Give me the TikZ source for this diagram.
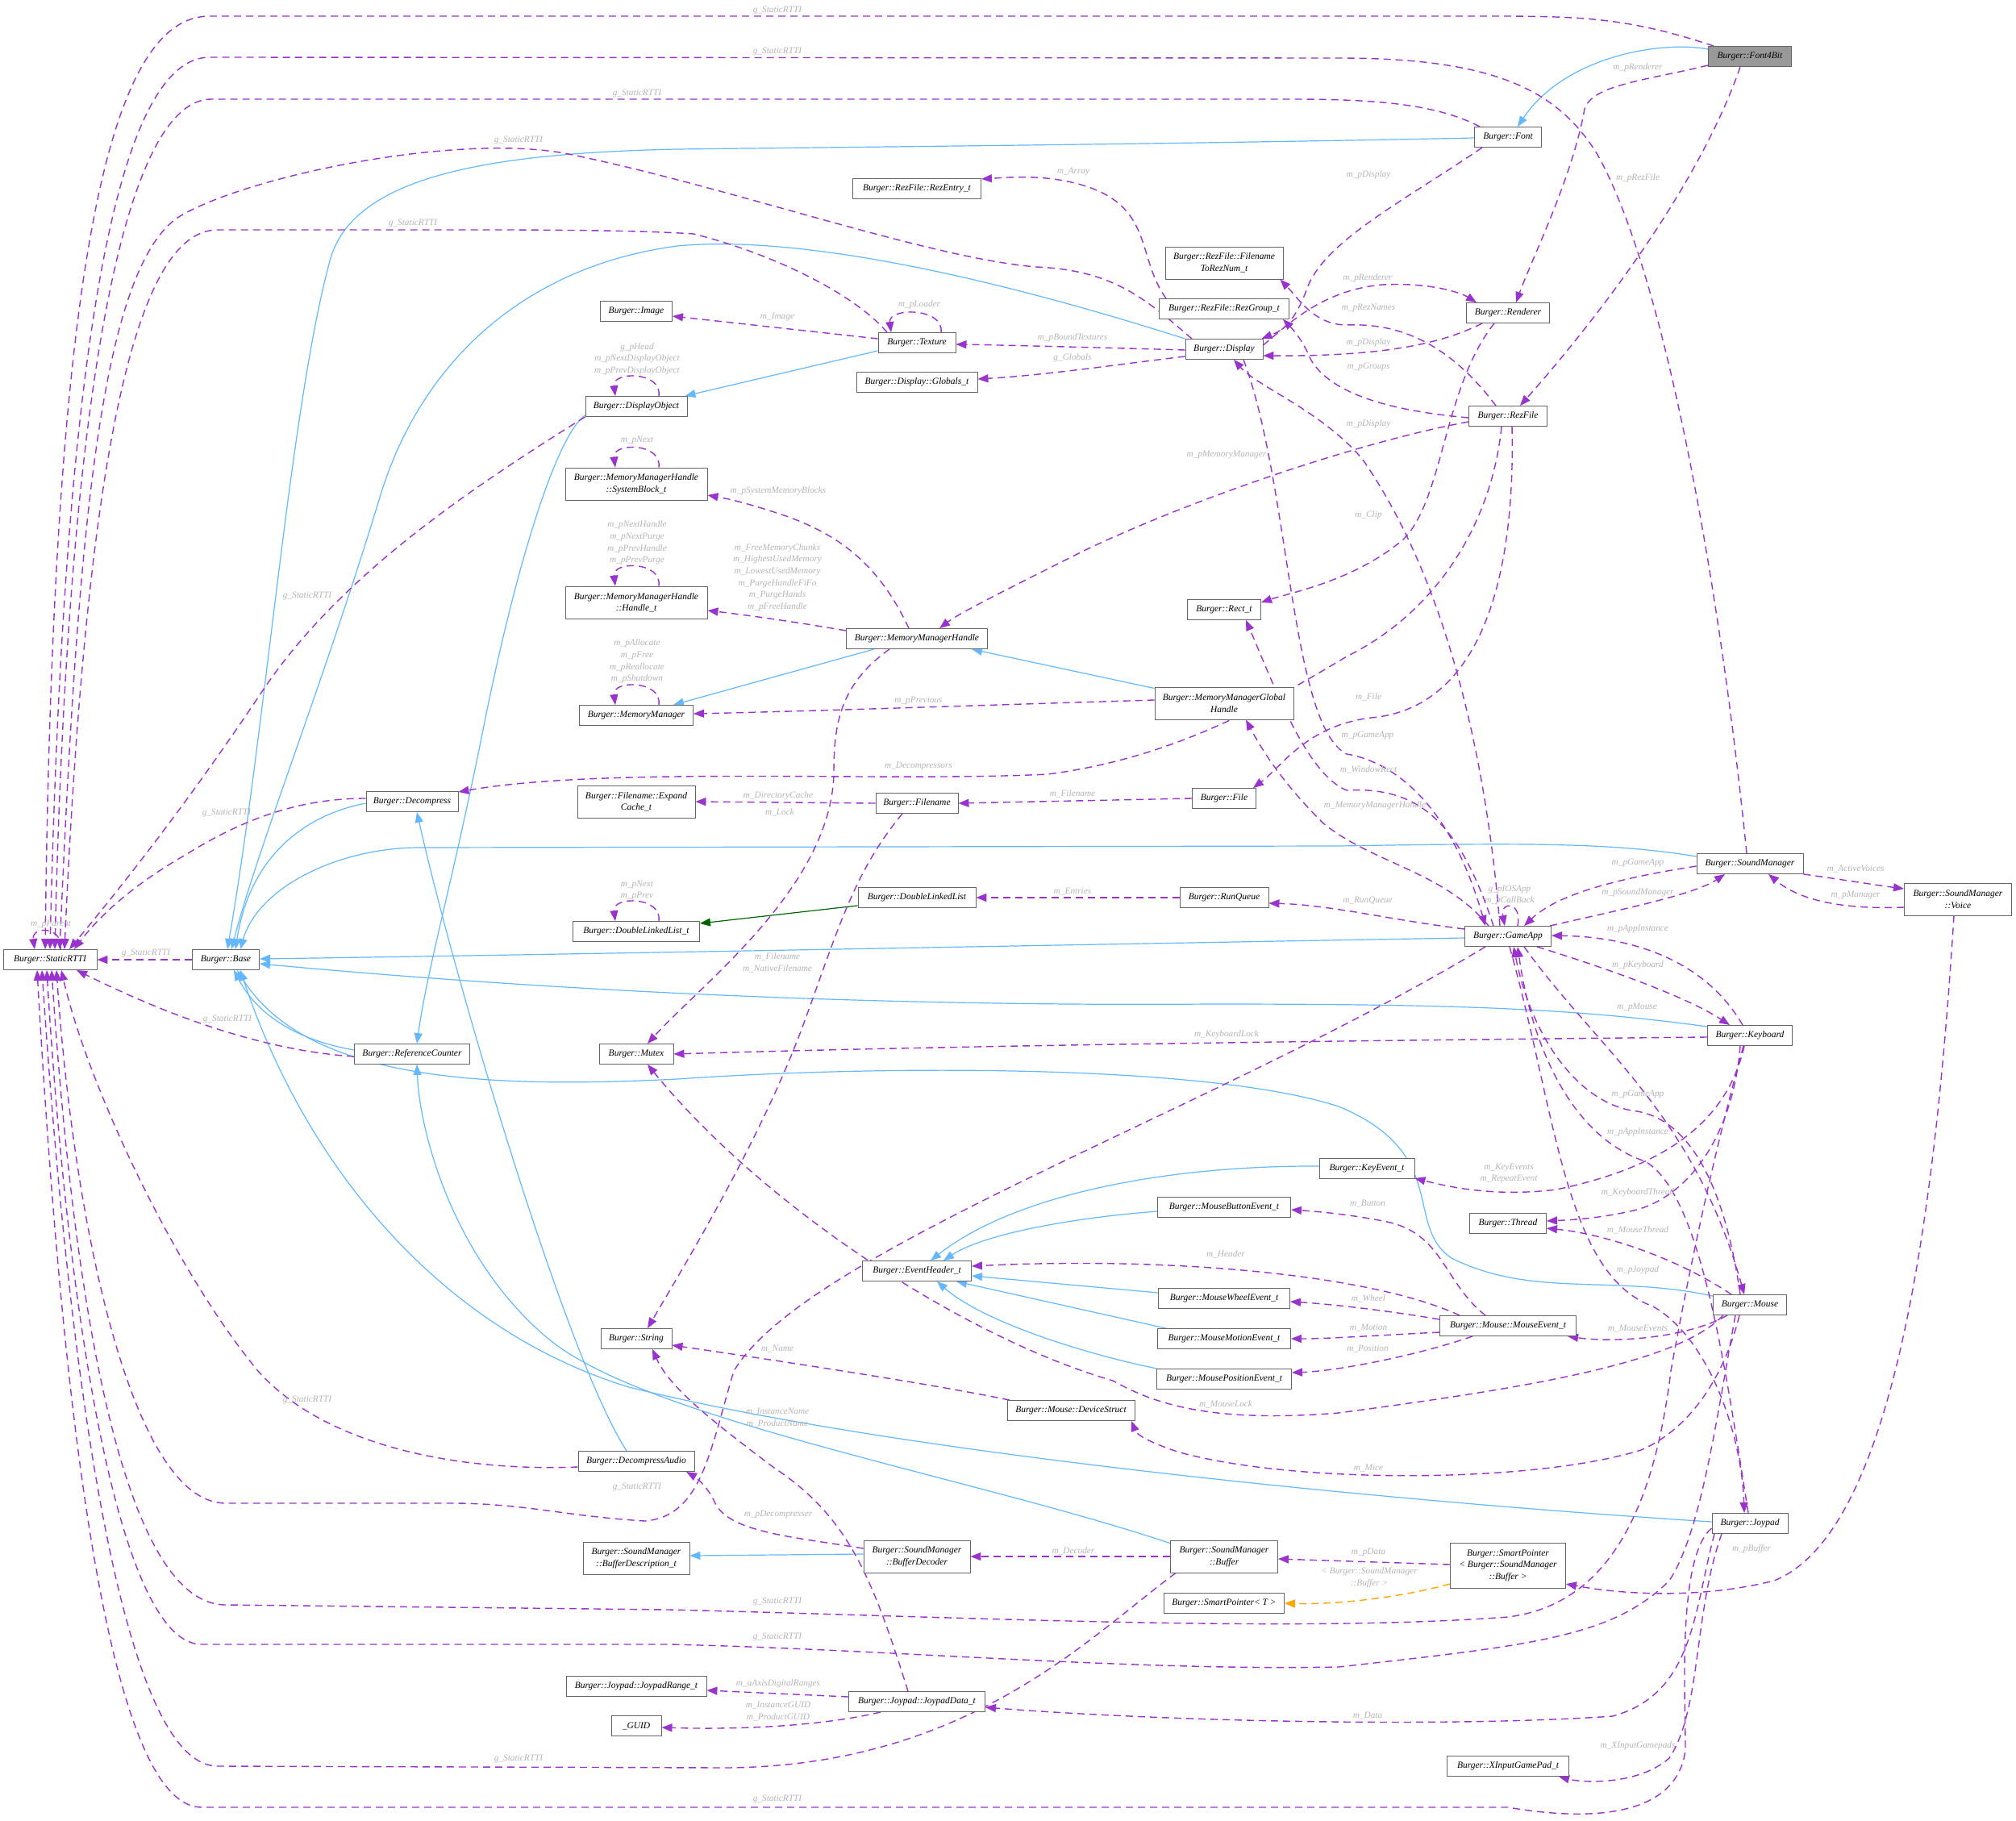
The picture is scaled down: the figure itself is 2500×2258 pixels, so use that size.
\documentclass[tikz,border=0pt]{standalone}
\usepackage{fontspec}
\setmainfont{Liberation Serif}
\usetikzlibrary{arrows.meta,calc}
\definecolor{usecol}{HTML}{9A32CD}
\definecolor{inhcol}{HTML}{63B8FF}
\definecolor{grncol}{HTML}{006400}
\definecolor{tplcol}{HTML}{FFA500}
\definecolor{boxgray}{HTML}{666666}
\definecolor{lblgray}{HTML}{B4B4B4}
\definecolor{fillgray}{HTML}{999999}
\newcommand\nodefont{\fontsize{11.5}{14.5}\selectfont\itshape}
\newcommand\lblfont{\fontsize{11.3}{14.6}\selectfont\itshape}
\pgfdeclarelayer{bg}
\pgfsetlayers{bg,main}
\tikzset{
 box/.style={draw=boxgray,line width=0.9pt,fill=white,font=\nodefont,inner xsep=4pt,inner ysep=3pt,minimum height=25pt,align=center,text=black},
 lbl/.style={font=\lblfont,text=lblgray,inner sep=0pt,align=center},
 usedge/.style={draw=usecol,line width=1.4pt,dash pattern=on 9pt off 6pt,-{Triangle[length=13pt,width=10pt]}},
 inhedge/.style={draw=inhcol,line width=1.2pt,-{Triangle[length=13pt,width=10pt]}},
 grnedge/.style={draw=grncol,line width=1.2pt,-{Triangle[length=13pt,width=10pt]}},
 tpledge/.style={draw=tplcol,line width=1.4pt,dash pattern=on 9pt off 6pt,-{Triangle[length=13pt,width=10pt]}},
}
\begin{document}
\begin{tikzpicture}[x=1pt,y=-1pt]
\useasboundingbox (0,0) rectangle (2500,2258);
% ---------------- nodes
\node[box,minimum width=103pt,fill=fillgray] (font4bit) at (2170,70) {Burger::Font4Bit};
\node[box,minimum width=83pt] (font) at (1870,170) {Burger::Font};
\node[box,minimum width=159pt] (rezentry) at (1137,234) {Burger::RezFile::RezEntry\_t};
\node[box,minimum width=146pt,minimum height=40pt] (fn2rez) at (1518,326) {Burger::RezFile::Filename\\ToRezNum\_t};
\node[box,minimum width=161pt] (rezgroup) at (1518,383) {Burger::RezFile::RezGroup\_t};
\node[box,minimum width=103pt] (renderer) at (1870,388) {Burger::Renderer};
\node[box,minimum width=89pt] (image) at (789,386) {Burger::Image};
\node[box,minimum width=96pt] (texture) at (1137,425) {Burger::Texture};
\node[box,minimum width=96pt] (display) at (1518,433) {Burger::Display};
\node[box,minimum width=150pt] (globals) at (1137,474) {Burger::Display::Globals\_t};
\node[box,minimum width=126pt] (dispobj) at (789,504) {Burger::DisplayObject};
\node[box,minimum width=97pt] (rezfile) at (1870,516) {Burger::RezFile};
\node[box,minimum width=176pt,minimum height=40pt] (sysblock) at (789,600) {Burger::MemoryManagerHandle\\::SystemBlock\_t};
\node[box,minimum width=176pt,minimum height=40pt] (handle) at (789,747) {Burger::MemoryManagerHandle\\::Handle\_t};
\node[box,minimum width=91pt] (rect) at (1518,756) {Burger::Rect\_t};
\node[box,minimum width=175pt] (mmh) at (1137,792) {Burger::MemoryManagerHandle};
\node[box,minimum width=172pt,minimum height=40pt] (mmgh) at (1518,872) {Burger::MemoryManagerGlobal\\Handle};
\node[box,minimum width=141pt] (mm) at (789,887) {Burger::MemoryManager};
\node[box,minimum width=114pt] (decomp) at (511,994) {Burger::Decompress};
\node[box,minimum width=146pt,minimum height=40pt] (expand) at (789,994) {Burger::Filename::Expand\\Cache\_t};
\node[box,minimum width=102pt] (filename) at (1137,996) {Burger::Filename};
\node[box,minimum width=79pt] (file) at (1518,990) {Burger::File};
\node[box,minimum width=132pt] (soundmgr) at (2170,1071) {Burger::SoundManager};
\node[box,minimum width=133pt,minimum height=40pt] (voice) at (2428,1115) {Burger::SoundManager\\::Voice};
\node[box,minimum width=146pt] (dll) at (1137,1113) {Burger::DoubleLinkedList};
\node[box,minimum width=110pt] (runqueue) at (1518,1113) {Burger::RunQueue};
\node[box,minimum width=157pt] (dllt) at (789,1155) {Burger::DoubleLinkedList\_t};
\node[box,minimum width=107pt] (gameapp) at (1870,1161) {Burger::GameApp};
\node[box,minimum width=116pt] (rtti) at (62,1190) {Burger::StaticRTTI};
\node[box,minimum width=83pt] (base) at (280,1190) {Burger::Base};
\node[box,minimum width=105pt] (keyboard) at (2170,1284) {Burger::Keyboard};
\node[box,minimum width=143pt] (refcnt) at (511,1307) {Burger::ReferenceCounter};
\node[box,minimum width=92pt] (mutex) at (789,1307) {Burger::Mutex};
\node[box,minimum width=118pt] (keyevent) at (1695,1449) {Burger::KeyEvent\_t};
\node[box,minimum width=165pt] (mbutton) at (1518,1497) {Burger::MouseButtonEvent\_t};
\node[box,minimum width=95pt] (thread) at (1870,1517) {Burger::Thread};
\node[box,minimum width=135pt] (evhdr) at (1137,1576) {Burger::EventHeader\_t};
\node[box,minimum width=163pt] (mwheel) at (1518,1610) {Burger::MouseWheelEvent\_t};
\node[box,minimum width=91pt] (mouse) at (2170,1618) {Burger::Mouse};
\node[box,minimum width=169pt] (mevent) at (1870,1644) {Burger::Mouse::MouseEvent\_t};
\node[box,minimum width=88pt] (string) at (789,1660) {Burger::String};
\node[box,minimum width=165pt] (mmotion) at (1518,1660) {Burger::MouseMotionEvent\_t};
\node[box,minimum width=167pt] (mpos) at (1518,1710) {Burger::MousePositionEvent\_t};
\node[box,minimum width=158pt] (devstruct) at (1328,1749) {Burger::Mouse::DeviceStruct};
\node[box,minimum width=144pt] (decaudio) at (789,1812) {Burger::DecompressAudio};
\node[box,minimum width=94pt] (joypad) at (2170,1889) {Burger::Joypad};
\node[box,minimum width=132pt,minimum height=40pt] (bufdesc) at (789,1932) {Burger::SoundManager\\::BufferDescription\_t};
\node[box,minimum width=132pt,minimum height=40pt] (bufdec) at (1137,1930) {Burger::SoundManager\\::BufferDecoder};
\node[box,minimum width=133pt,minimum height=40pt] (buffer) at (1518,1930) {Burger::SoundManager\\::Buffer};
\node[box,minimum width=143pt,minimum height=56pt] (smartbuf) at (1870,1941) {Burger::SmartPointer\\< Burger::SoundManager\\::Buffer >};
\node[box,minimum width=149pt] (smartT) at (1518,1988) {Burger::SmartPointer< T >};
\node[box,minimum width=174pt] (jrange) at (789,2091) {Burger::Joypad::JoypadRange\_t};
\node[box,minimum width=169pt] (jdata) at (1137,2110) {Burger::Joypad::JoypadData\_t};
\node[box,minimum width=62pt] (guid) at (789,2140) {\_GUID};
\node[box,minimum width=151pt] (xinput) at (1870,2190) {Burger::XInputGamePad\_t};

\begin{pgfonlayer}{bg}
\fill[white] (0,0) rectangle (2500,2258);
% ---------------- inheritance (blue)
\draw[inhedge] ([yshift=9pt]font4bit.west) .. controls (2060,50) and (1940,70) .. ([xshift=12pt]font.north);
\draw[inhedge] ([yshift=-1pt]font.west) .. controls (1500,178) and (1100,182) .. (840,185) .. controls (600,190) and (440,220) .. (410,320) .. controls (360,500) and (330,900) .. ([xshift=2pt]base.north);
\draw[inhedge] (display.north west) .. controls (1250,350) and (1000,290) .. (840,305) .. controls (650,330) and (520,450) .. (470,620) .. controls (400,850) and (320,1050) .. ([xshift=7pt]base.north);
\draw[inhedge] ([yshift=3pt]texture.south west) -- ([xshift=-3pt]dispobj.north east);
\draw[inhedge] ([yshift=2pt]dispobj.south west) .. controls (690,540) and (640,700) .. (600,900) .. controls (560,1100) and (530,1200) .. ([xshift=6pt]refcnt.north);
\draw[inhedge] ([yshift=5pt]refcnt.west) .. controls (370,1290) and (320,1260) .. ([xshift=10pt]base.south);
\draw[inhedge] ([yshift=-4pt]buffer.north west) .. controls (1200,1830) and (800,1760) .. (680,1660) .. controls (560,1560) and (520,1400) .. ([xshift=6pt]refcnt.south);
\draw[inhedge] ([yshift=2pt]joypad.west) .. controls (1700,1860) and (1100,1800) .. (780,1720) .. controls (550,1650) and (380,1450) .. ([xshift=18pt]base.south);
\draw[inhedge] ([yshift=-2pt]mouse.north west) .. controls (2000,1580) and (1900,1610) .. (1800,1560) .. controls (1740,1520) and (1800,1430) .. (1660,1372) .. controls (1500,1320) and (1100,1320) .. (840,1338) .. controls (600,1350) and (380,1340) .. ([xshift=14pt]base.south);
\draw[inhedge] ([yshift=11pt]keyboard.west) .. controls (1950,1250) and (1800,1245) .. (1500,1245) .. controls (1100,1248) and (700,1230) .. ([yshift=-5pt]base.east);
\draw[inhedge] ([yshift=-2pt]gameapp.west) .. controls (1400,1170) and (800,1182) .. ([yshift=1pt]base.east);
\draw[inhedge] ([yshift=9pt]soundmgr.west) .. controls (2000,1045) and (1900,1045) .. (1660,1049) -- (520,1051) .. controls (420,1051) and (320,1100) .. ([xshift=18pt]base.north);
\draw[inhedge] ([yshift=-2pt]decomp.west) .. controls (380,1010) and (310,1060) .. ([xshift=12pt]base.north);
\draw[inhedge] ([xshift=-12pt]decaudio.north) .. controls (700,1680) and (560,1200) .. ([xshift=6pt]decomp.south);
\draw[inhedge] ([xshift=-53pt]mmh.south) -- ([xshift=46pt]mm.north);
\draw[inhedge] ([yshift=-2pt]mmgh.north west) -- ([xshift=68pt]mmh.south);
\draw[inhedge] ([yshift=3pt]keyevent.west) .. controls (1450,1445) and (1260,1480) .. ([xshift=17pt]evhdr.north);
\draw[inhedge] ([yshift=-5pt]mbutton.west) .. controls (1330,1510) and (1220,1530) .. ([xshift=33pt]evhdr.north);
\draw[inhedge] ([yshift=7pt]mwheel.west) -- ([yshift=-6pt]evhdr.east);
\draw[inhedge] ([xshift=-72pt]mmotion.north) -- ([xshift=49pt]evhdr.south);
\draw[inhedge] ([xshift=-83pt]mpos.north) .. controls (1350,1680) and (1220,1640) .. ([xshift=25pt]evhdr.south);
\draw[inhedge] ([yshift=3pt]bufdec.west) -- ([yshift=3pt]bufdesc.east);
\draw[grnedge] ([yshift=3pt]dll.south west) -- ([yshift=10pt]dllt.east);
\draw[tpledge] ([yshift=-23pt]smartbuf.west) .. controls (1740,1980) and (1660,1990) .. (smartT.east);
% ---------------- usage (purple) to StaticRTTI
\draw[usedge] (base.west) -- (rtti.east);
\draw[usedge] ([xshift=13pt]rtti.north) .. controls +(4,-29) and +(-4,-29) .. ([xshift=-19pt]rtti.north);
\draw[usedge] ([xshift=-45pt]font4bit.north) .. controls (2020,22) and (1960,20) .. (1850,20) -- (260,20) .. controls (140,20) and (66,300) .. ([xshift=-6pt]rtti.north);
\draw[usedge] ([xshift=-4pt]soundmgr.north) .. controls (2130,700) and (2060,330) .. (1980,190) .. controls (1930,110) and (1850,72) .. (1660,72) -- (260,71) .. controls (150,71) and (80,400) .. (rtti.north);
\draw[usedge] ([xshift=-35pt]font.north) .. controls (1780,128) and (1700,123) .. (1600,123) -- (262,123) .. controls (160,123) and (85,450) .. ([xshift=6pt]rtti.north);
\draw[usedge] ([xshift=-40pt]display.north) .. controls (1420,370) and (1380,335) .. (1285,331) .. controls (1150,320) and (900,230) .. (700,190) .. controls (560,165) and (300,220) .. (220,270) .. controls (120,340) and (95,700) .. ([xshift=12pt]rtti.north);
\draw[usedge] ([xshift=-37pt]texture.north) .. controls (1060,365) and (960,315) .. (860,290) .. controls (800,286) and (700,285) .. (600,285) -- (270,285) .. controls (180,285) and (110,500) .. ([xshift=18pt]rtti.north);
\draw[usedge] (dispobj.south west) .. controls (560,620) and (420,720) .. (330,850) .. controls (230,1000) and (150,1100) .. ([xshift=24pt]rtti.north);
\draw[usedge] ([yshift=4pt]decomp.west) .. controls (380,990) and (310,1010) .. (230,1060) .. controls (160,1100) and (120,1140) .. ([xshift=30pt]rtti.north);
\draw[usedge] ([yshift=-3pt]refcnt.west) .. controls (360,1305) and (250,1280) .. ([xshift=33pt]rtti.south);
\draw[usedge] ([yshift=-7pt]decaudio.west) .. controls (560,1825) and (400,1790) .. (320,1700) .. controls (220,1580) and (110,1350) .. ([xshift=14pt]rtti.south);
\draw[usedge] ([xshift=-28pt]gameapp.south) .. controls (1500,1380) and (1000,1550) .. (910,1700) .. controls (880,1800) and (870,1880) .. (800,1886) .. controls (700,1880) and (650,1864) .. (560,1864) -- (280,1864) .. controls (160,1864) and (90,1500) .. ([xshift=8pt]rtti.south);
\draw[usedge] ([xshift=-8pt]keyboard.south) .. controls (2120,1450) and (2090,1600) .. (2072,1700) .. controls (2050,1880) and (1990,1990) .. (1870,2005) .. controls (1600,2025) and (1200,2005) .. (830,1996) -- (280,1990) .. controls (150,1990) and (90,1600) .. ([xshift=2pt]rtti.south);
\draw[usedge] ([xshift=-18pt]mouse.south) .. controls (2130,1750) and (2110,1900) .. (2070,1960) .. controls (2000,2030) and (1900,2040) .. (1660,2067) .. controls (1400,2072) and (1100,2045) .. (830,2039) -- (250,2039) .. controls (150,2039) and (85,1650) .. ([xshift=-4pt]rtti.south);
\draw[usedge] ([xshift=7pt]buffer.south west) .. controls (1350,2030) and (1200,2190) .. (900,2192) -- (270,2190) .. controls (150,2190) and (85,1700) .. ([xshift=-10pt]rtti.south);
\draw[usedge] ([yshift=-6pt]joypad.west) .. controls (2080,1930) and (2090,2100) .. (2090,2170) .. controls (2080,2250) and (1980,2260) .. (1870,2241) -- (250,2241) .. controls (140,2241) and (80,1800) .. ([xshift=-16pt]rtti.south);
% ---------------- other usage edges
\draw[usedge] ([yshift=-11pt]font4bit.west) .. controls (2040,100) and (1975,105) .. (1965,135) .. controls (1950,220) and (1900,320) .. ([xshift=10pt]renderer.north);
\draw[usedge] ([xshift=-12pt]font4bit.south) .. controls (2100,250) and (1950,430) .. ([xshift=15pt]rezfile.north);
\draw[usedge] ([xshift=-32pt]font.south) .. controls (1740,250) and (1640,300) .. (1620,360) .. controls (1605,400) and (1590,410) .. ([xshift=-2pt]display.north east);
\draw[usedge] ([xshift=-72pt]rezgroup.north) .. controls (1410,320) and (1430,260) .. (1350,232) .. controls (1300,215) and (1250,220) .. ([yshift=12pt]rezentry.east);
\draw[usedge] ([yshift=5pt]texture.west) -- ([yshift=-6pt]image.east);
\draw[usedge] ([xshift=30pt]texture.north) .. controls +(4,-31) and +(-4,-31) .. ([xshift=-32pt]texture.north);
\draw[usedge] ([yshift=-1pt]display.west) .. controls (1400,432) and (1250,428) .. ([yshift=-2pt]texture.east);
\draw[usedge] ([yshift=-9pt]display.west) .. controls (1400,450) and (1300,465) .. ([yshift=4pt]globals.east);
\draw[usedge] ([yshift=5pt]display.east) .. controls (1600,400) and (1640,360) .. (1714,353) .. controls (1770,350) and (1810,362) .. ([xshift=-39pt]renderer.north);
\draw[usedge] ([xshift=-32pt]renderer.south) .. controls (1790,425) and (1720,442) .. ([yshift=-8pt]display.east);
\draw[usedge] ([xshift=-15pt]rezfile.north) .. controls (1800,430) and (1740,400) .. (1670,403) .. controls (1630,403) and (1610,370) .. ([xshift=-4pt]fn2rez.south east);
\draw[usedge] ([yshift=-2pt]rezfile.west) .. controls (1730,510) and (1650,490) .. (1625,445) .. controls (1615,420) and (1600,405) .. ([xshift=-8pt]rezgroup.south east);
\draw[usedge] ([yshift=-7pt]rezfile.west) .. controls (1700,545) and (1500,610) .. (1350,680) .. controls (1250,730) and (1190,760) .. ([xshift=28pt]mmh.north);
\draw[usedge] ([xshift=5pt]rezfile.south) .. controls (1880,750) and (1820,880) .. (1700,890) .. controls (1620,900) and (1590,950) .. ([xshift=-4pt]file.north east);
\draw[usedge] ([xshift=-8pt]rezfile.south) .. controls (1850,650) and (1780,760) .. (1670,814) .. controls (1560,880) and (1450,940) .. (1300,960) .. controls (1100,970) and (750,950) .. ([yshift=12pt]decomp.east);
\draw[usedge] ([xshift=-17pt]renderer.south) .. controls (1790,480) and (1790,620) .. (1740,669) .. controls (1680,720) and (1600,735) .. ([yshift=9pt]rect.east);
\draw[usedge] ([xshift=24pt]display.south) .. controls (1600,600) and (1600,900) .. (1670,935) .. controls (1730,945) and (1800,1000) .. ([xshift=-28pt]gameapp.north);
\draw[usedge] ([xshift=-10pt]gameapp.north) .. controls (1840,900) and (1780,700) .. (1690,570) .. controls (1640,510) and (1560,480) .. ([xshift=12pt]display.south);
\draw[usedge] ([xshift=-18pt]gameapp.north) .. controls (1810,1020) and (1760,975) .. (1670,980) .. controls (1620,960) and (1580,850) .. ([xshift=27pt]rect.south);
\draw[usedge] ([xshift=-24pt]gameapp.north) .. controls (1790,1080) and (1700,1070) .. (1640,1020) .. controls (1590,970) and (1565,930) .. ([xshift=27pt]mmgh.south);
\draw[usedge] ([xshift=-10pt]mmh.north) .. controls (1090,700) and (1040,660) .. (960,635) .. controls (920,622) and (900,618) .. ([yshift=-14pt]sysblock.east);
\draw[usedge] ([yshift=10pt]mmh.west) .. controls (980,770) and (920,762) .. ([yshift=-10pt]handle.east);
\draw[usedge] ([xshift=-34pt]mmh.south) .. controls (1040,850) and (1034,900) .. (1034,960) .. controls (1030,1100) and (870,1220) .. ([xshift=14pt]mutex.north);
\draw[usedge] ([yshift=4pt]mmgh.west) .. controls (1200,875) and (1000,882) .. ([yshift=2pt]mm.east);
\draw[usedge] ([xshift=28pt]dispobj.north) .. controls +(4,-31) and +(-4,-31) .. ([xshift=-26pt]dispobj.north);
\draw[usedge] ([xshift=28pt]sysblock.north) .. controls +(4,-31) and +(-4,-31) .. ([xshift=-26pt]sysblock.north);
\draw[usedge] ([xshift=28pt]handle.north) .. controls +(4,-31) and +(-4,-31) .. ([xshift=-26pt]handle.north);
\draw[usedge] ([xshift=28pt]mm.north) .. controls +(4,-31) and +(-4,-31) .. ([xshift=-26pt]mm.north);
\draw[usedge] ([xshift=28pt]dllt.north) .. controls +(4,-31) and +(-4,-31) .. ([xshift=-26pt]dllt.north);
\draw[usedge] ([xshift=12pt]gameapp.north) .. controls +(6,-31) and +(-6,-31) .. ([xshift=-4pt]gameapp.north);
\draw[usedge] (filename.west) -- (expand.east);
\draw[usedge] (file.west) -- (filename.east);
\draw[usedge] (runqueue.west) -- (dll.east);
\draw[usedge] ([yshift=9pt]gameapp.west) .. controls (1720,1140) and (1650,1122) .. ([yshift=-7pt]runqueue.east);
\draw[usedge] ([xshift=-18pt]filename.south) .. controls (1060,1080) and (1040,1150) .. (1000,1260) .. controls (950,1400) and (860,1550) .. ([xshift=14pt]string.north);
\draw[usedge] ([xshift=-11pt]jdata.north) .. controls (1080,1950) and (1050,1880) .. (960,1820) .. controls (880,1760) and (830,1720) .. ([xshift=20pt]string.south);
\draw[usedge] ([xshift=-76pt]devstruct.north) .. controls (1150,1715) and (950,1685) .. ([yshift=-8pt]string.east);
\draw[usedge] ([yshift=-3pt]soundmgr.west) .. controls (2000,1090) and (1930,1110) .. ([xshift=20pt]gameapp.north);
\draw[usedge] ([xshift=-2pt]gameapp.north east) .. controls (2000,1130) and (2100,1110) .. ([xshift=-31pt]soundmgr.south);
\draw[usedge] (soundmgr.south east) .. controls (2280,1090) and (2330,1098) .. ([yshift=13pt]voice.west);
\draw[usedge] ([yshift=-10pt]voice.west) .. controls (2280,1128) and (2230,1115) .. ([xshift=23pt]soundmgr.south);
\draw[usedge] ([xshift=-9pt]keyboard.north) .. controls (2120,1200) and (2040,1162) .. ([yshift=1pt]gameapp.east);
\draw[usedge] ([xshift=36pt]gameapp.south) .. controls (1990,1200) and (2090,1235) .. ([xshift=-25pt]keyboard.north);
\draw[usedge] ([xshift=20pt]gameapp.south) .. controls (1980,1300) and (2100,1380) .. ([xshift=-7pt]mouse.north);
\draw[usedge] ([xshift=-12pt]mouse.north) .. controls (2140,1480) and (2100,1390) .. (2030,1378) .. controls (1960,1370) and (1900,1290) .. ([xshift=7pt]gameapp.south);
\draw[usedge] ([xshift=-2pt]joypad.north) .. controls (2140,1700) and (2110,1480) .. (2040,1440) .. controls (1950,1410) and (1900,1300) .. ([xshift=12pt]gameapp.south);
\draw[usedge] ([xshift=2pt]gameapp.south) .. controls (1930,1380) and (1940,1580) .. (2050,1620) .. controls (2120,1660) and (2160,1780) .. ([xshift=-7pt]joypad.north);
\draw[usedge] ([yshift=-2pt]keyboard.west) .. controls (1700,1290) and (1200,1296) .. (mutex.east);
\draw[usedge] ([xshift=-7pt]keyboard.south) .. controls (2140,1400) and (2050,1450) .. (1930,1475) .. controls (1850,1485) and (1790,1470) .. ([yshift=-12pt]keyevent.east);
\draw[usedge] ([xshift=-12pt]keyboard.south) .. controls (2150,1400) and (2100,1480) .. (2030,1500) .. controls (1980,1512) and (1940,1513) .. ([yshift=3pt]thread.east);
\draw[usedge] ([xshift=-23pt]mouse.north) .. controls (2080,1560) and (1990,1530) .. ([yshift=-6pt]thread.east);
\draw[usedge] ([xshift=-28pt]mouse.south) .. controls (2090,1660) and (2000,1665) .. ([xshift=74pt]mevent.south);
\draw[usedge] ([xshift=-33pt]mouse.south) .. controls (2080,1690) and (1900,1720) .. (1660,1752) .. controls (1500,1765) and (1430,1740) .. (1380,1712) .. controls (1200,1660) and (950,1500) .. ([xshift=14pt]mutex.south);
\draw[usedge] ([xshift=-13pt]mouse.south) .. controls (2140,1700) and (2100,1770) .. (2035,1798) .. controls (1900,1840) and (1600,1840) .. (1460,1800) .. controls (1430,1790) and (1410,1780) .. ([xshift=75pt]devstruct.south);
\draw[usedge] ([xshift=-60pt]mevent.north) .. controls (1700,1580) and (1450,1558) .. ([yshift=6pt]evhdr.east);
\draw[usedge] ([xshift=-28pt]mevent.north) .. controls (1790,1590) and (1790,1530) .. (1720,1515) .. controls (1670,1505) and (1630,1502) .. ([yshift=-3pt]mbutton.east);
\draw[usedge] ([yshift=8pt]mevent.west) .. controls (1720,1625) and (1650,1617) .. ([yshift=-4pt]mwheel.east);
\draw[usedge] ([yshift=-8pt]mevent.west) .. controls (1720,1655) and (1650,1660) .. (mmotion.east);
\draw[usedge] ([xshift=-44pt]mevent.south) .. controls (1760,1680) and (1660,1700) .. ([yshift=8pt]mpos.east);
\draw[usedge] ([xshift=-5pt]voice.south) .. controls (2400,1500) and (2350,1900) .. (2200,1960) .. controls (2100,1985) and (2000,1975) .. ([yshift=-23pt]smartbuf.east);
\draw[usedge] ([yshift=1pt]smartbuf.west) -- ([yshift=-3pt]buffer.east);
\draw[usedge] (buffer.west) -- (bufdec.east);
\draw[usedge] ([yshift=10pt]bufdec.west) .. controls (980,1905) and (900,1900) .. (885,1860) .. controls (875,1840) and (860,1830) .. ([xshift=62pt]decaudio.south);
\draw[usedge] ([yshift=6pt]jdata.west) -- ([yshift=-5pt]jrange.east);
\draw[usedge] ([xshift=-45pt]jdata.south) .. controls (1020,2140) and (920,2145) .. ([yshift=-2pt]guid.east);
\draw[usedge] ([xshift=-44pt]joypad.south) .. controls (2100,2000) and (2100,2100) .. (2000,2128) .. controls (1800,2142) and (1450,2135) .. ([yshift=-7pt]jdata.east);
\draw[usedge] ([xshift=-35pt]joypad.south) .. controls (2100,2000) and (2110,2120) .. (2070,2180) .. controls (2030,2215) and (1960,2210) .. ([xshift=63pt]xinput.south);
\end{pgfonlayer}

% ---------------- labels
\node[lbl] (l01) at (964,13) {g\_StaticRTTI};
\node[lbl] (l02) at (964,64) {g\_StaticRTTI};
\node[lbl] (l03) at (790,116) {g\_StaticRTTI};
\node[lbl] (l04) at (643,174) {g\_StaticRTTI};
\node[lbl] (l05) at (512,277) {g\_StaticRTTI};
\node[lbl] (l06) at (381,739) {g\_StaticRTTI};
\node[lbl] (l07) at (281,1008) {g\_StaticRTTI};
\node[lbl] (l08) at (181,1182) {g\_StaticRTTI};
\node[lbl] (l09) at (282,1264) {g\_StaticRTTI};
\node[lbl] (l10) at (381,1736) {g\_StaticRTTI};
\node[lbl] (l11) at (790,1844) {g\_StaticRTTI};
\node[lbl] (l12) at (964,1986) {g\_StaticRTTI};
\node[lbl] (l13) at (964,2030) {g\_StaticRTTI};
\node[lbl] (l14) at (643,2181) {g\_StaticRTTI};
\node[lbl] (l15) at (964,2231) {g\_StaticRTTI};
\node[lbl] (l16) at (63,1146) {m\_pParent};
\node[lbl] (l17) at (2031,84) {m\_pRenderer};
\node[lbl] (l18) at (2031,221) {m\_pRezFile};
\node[lbl] (l19) at (1697,217) {m\_pDisplay};
\node[lbl] (l20) at (1331,213) {m\_Array};
\node[lbl] (l21) at (964,393) {m\_Image};
\node[lbl] (l22) at (1140,378) {m\_pLoader};
\node[lbl] (l23) at (1330,419) {m\_pBoundTextures};
\node[lbl] (l24) at (1330,444) {g\_Globals};
\node[lbl] (l25) at (1696,345) {m\_pRenderer};
\node[lbl] (l26) at (1697,382) {m\_pRezNames};
\node[lbl] (l27) at (1697,425) {m\_pDisplay};
\node[lbl] (l28) at (1697,455) {m\_pGroups};
\node[lbl] (l29) at (1697,526) {m\_pDisplay};
\node[lbl] (l30) at (1521,564) {m\_pMemoryManager};
\node[lbl] (l31) at (1697,639) {m\_Clip};
\node[lbl] (l32) at (965,609) {m\_pSystemMemoryBlocks};
\node[lbl] (l33) at (964,716) {m\_FreeMemoryChunks\\m\_HighestUsedMemory\\m\_LowestUsedMemory\\m\_PurgeHandleFiFo\\m\_PurgeHands\\m\_pFreeHandle};
\node[lbl] (l34) at (790,445) {g\_pHead\\m\_pNextDisplayObject\\m\_pPrevDisplayObject};
\node[lbl] (l35) at (790,546) {m\_pNext};
\node[lbl] (l36) at (790,673) {m\_pNextHandle\\m\_pNextPurge\\m\_pPrevHandle\\m\_pPrevPurge};
\node[lbl] (l37) at (790,820) {m\_pAllocate\\m\_pFree\\m\_pReallocate\\m\_pShutdown};
\node[lbl] (l38) at (1139,869) {m\_pPrevious};
\node[lbl] (l39) at (1139,950) {m\_Decompressors};
\node[lbl] (l40) at (1697,864) {m\_File};
\node[lbl] (l41) at (1696,912) {m\_pGameApp};
\node[lbl] (l42) at (1697,954) {m\_WindowRect};
\node[lbl] (l43) at (1705,999) {m\_MemoryManagerHandle};
\node[lbl] (l44) at (965,987) {m\_DirectoryCache};
\node[lbl] (l45) at (967,1007) {m\_Lock};
\node[lbl] (l46) at (1330,984) {m\_Filename};
\node[lbl] (l47) at (790,1104) {m\_pNext\\m\_pPrev};
\node[lbl] (l48) at (1330,1105) {m\_Entries};
\node[lbl] (l49) at (1696,1117) {m\_RunQueue};
\node[lbl] (l50) at (1872,1110) {g\_pIOSApp\\m\_pCallBack};
\node[lbl] (l51) at (2031,1070) {m\_pGameApp};
\node[lbl] (l52) at (2031,1107) {m\_pSoundManager};
\node[lbl] (l53) at (2301,1077) {m\_ActiveVoices};
\node[lbl] (l54) at (2301,1110) {m\_pManager};
\node[lbl] (l55) at (2031,1152) {m\_pAppInstance};
\node[lbl] (l56) at (2031,1197) {m\_pKeyboard};
\node[lbl] (l57) at (2030,1249) {m\_pMouse};
\node[lbl] (l58) at (964,1194) {m\_Filename\\m\_NativeFilename};
\node[lbl] (l59) at (1521,1283) {m\_KeyboardLock};
\node[lbl] (l60) at (2031,1357) {m\_pGameApp};
\node[lbl] (l61) at (2031,1404) {m\_pAppInstance};
\node[lbl] (l62) at (1871,1455) {m\_KeyEvents\\m\_RepeatEvent};
\node[lbl] (l63) at (2031,1479) {m\_KeyboardThread};
\node[lbl] (l64) at (1696,1493) {m\_Button};
\node[lbl] (l65) at (2031,1525) {m\_MouseThread};
\node[lbl] (l66) at (1520,1555) {m\_Header};
\node[lbl] (l67) at (2031,1575) {m\_pJoypad};
\node[lbl] (l68) at (1697,1610) {m\_Wheel};
\node[lbl] (l69) at (1697,1646) {m\_Motion};
\node[lbl] (l70) at (2031,1648) {m\_MouseEvents};
\node[lbl] (l71) at (1696,1672) {m\_Position};
\node[lbl] (l72) at (964,1673) {m\_Name};
\node[lbl] (l73) at (1520,1741) {m\_MouseLock};
\node[lbl] (l74) at (964,1758) {m\_InstanceName\\m\_ProductName};
\node[lbl] (l75) at (1697,1820) {m\_Mice};
\node[lbl] (l76) at (965,1878) {m\_pDecompresser};
\node[lbl] (l77) at (1331,1923) {m\_Decoder};
\node[lbl] (l78) at (1697,1925) {m\_pData};
\node[lbl] (l79) at (2172,1921) {m\_pBuffer};
\node[lbl] (l80) at (1698,1956) {< Burger::SoundManager\\::Buffer >};
\node[lbl] (l81) at (965,2088) {m\_uAxisDigitalRanges};
\node[lbl] (l82) at (965,2122) {m\_InstanceGUID\\m\_ProductGUID};
\node[lbl] (l83) at (1696,2128) {m\_Data};
\node[lbl] (l84) at (2031,2165) {m\_XInputGamepads};
\end{tikzpicture}
\end{document}
